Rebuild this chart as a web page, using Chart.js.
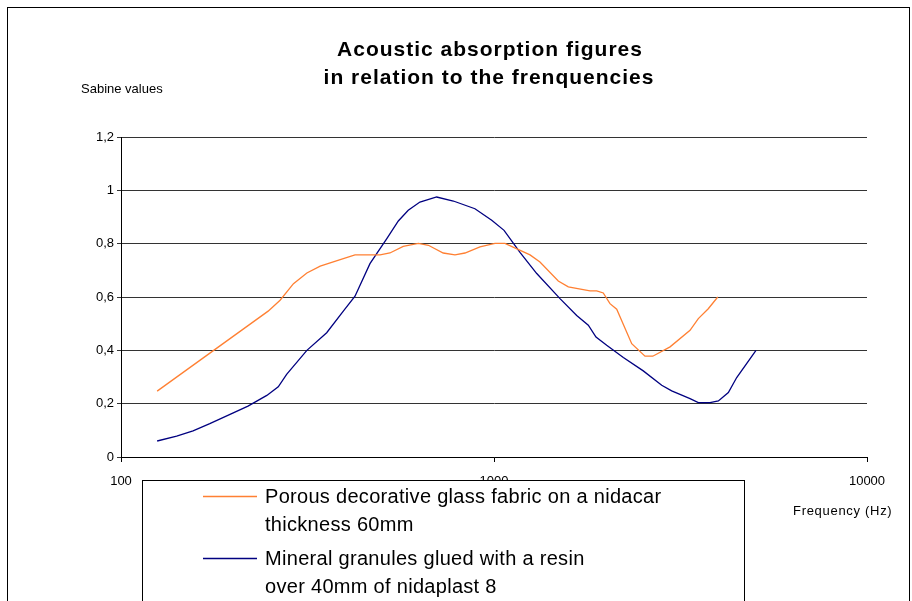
<!DOCTYPE html>
<html>
<head>
<meta charset="utf-8">
<title>Acoustic absorption figures</title>
<script src="https://cdn.jsdelivr.net/npm/chart.js@4"></script>
<style>
	body { margin: 0; background: #fff; }
	#chart-holder { width: 912px; height: 601px; }
</style>
</head>
<body>
<div id="chart-holder"><canvas id="myChart" width="912" height="601"></canvas></div>
<script>
const titleLines = ['Acoustic absorption figures', 'in relation to the frenquencies'];
const yAxisTitle = 'Sabine values';
const xAxisTitle = 'Frequency (Hz)';
const xTickValues = [100, 1000, 10000];

const glassLabel = ['Porous decorative glass fabric on a nidacar', 'thickness 60mm'];
const glassFreq = [125, 248, 267, 290, 315, 342, 387, 424, 495, 526, 571, 627, 667, 731, 786, 836, 917, 1006, 1070,
	1249, 1328, 1487, 1582, 1809, 1885, 1963, 2046, 2133, 2340, 2540, 2665, 2965, 3354, 3530, 3754, 3980];
const glassValues = [0.247, 0.547, 0.588, 0.650, 0.690, 0.716, 0.740, 0.758, 0.758, 0.765, 0.790, 0.801, 0.794, 0.765, 0.758, 0.765, 0.788, 0.801, 0.801,
	0.758, 0.731, 0.660, 0.638, 0.623, 0.623, 0.615, 0.575, 0.554, 0.425, 0.378, 0.378, 0.413, 0.475, 0.519, 0.556, 0.600];

const mineralLabel = ['Mineral granules glued with a resin', 'over 40mm of nidaplast 8'];
const mineralFreq = [125, 141, 156, 173, 196, 219, 246, 264, 278, 315, 356, 394, 424, 465, 516, 554, 589, 633, 702, 778, 889, 986, 1064,
	1174, 1302, 1503, 1666, 1790, 1877, 2005, 2222, 2513, 2816, 2995, 3354, 3530, 3794, 3995, 4249, 4474, 5040];
const mineralValues = [0.060, 0.078, 0.098, 0.125, 0.160, 0.191, 0.231, 0.263, 0.310, 0.400, 0.466, 0.546, 0.603, 0.725, 0.819, 0.885, 0.925, 0.956, 0.975, 0.960, 0.931, 0.888, 0.850,
	0.767, 0.688, 0.594, 0.531, 0.494, 0.450, 0.419, 0.373, 0.323, 0.269, 0.248, 0.219, 0.204, 0.204, 0.210, 0.242, 0.298, 0.400];

const glassColor = '#ff8033';
const mineralColor = '#000080';
const fontFamily = '"Liberation Sans", Arial, sans-serif';

function toPoints(freqs, values) {
	return freqs.map((f, i) => ({ x: f, y: values[i] }));
}

function formatComma(value) {
	return String(Number(value.toFixed(1))).replace('.', ',');
}

// frame, titles and the legend box drawn over the plot like in the original sheet
const decorations = {
	id: 'decorations',
	afterDraw(chart) {
		const ctx = chart.ctx;
		ctx.save();

		ctx.strokeStyle = '#000';
		ctx.lineWidth = 1;
		ctx.strokeRect(7.5, 7.5, 902, 700);

		ctx.fillStyle = '#000';
		ctx.textAlign = 'center';
		ctx.textBaseline = 'alphabetic';
		ctx.font = 'bold 21px ' + fontFamily;
		ctx.letterSpacing = '1px';
		ctx.fillText(titleLines[0], 490, 56);
		ctx.fillText(titleLines[1], 489, 84);

		ctx.font = '13px ' + fontFamily;
		ctx.textAlign = 'left';
		ctx.letterSpacing = '0px';
		ctx.fillText(yAxisTitle, 81, 93);
		ctx.letterSpacing = '0.7px';
		ctx.fillText(xAxisTitle, 793, 515);

		// legend
		ctx.fillStyle = '#fff';
		ctx.fillRect(142.5, 480.5, 602, 200);
		ctx.strokeStyle = '#000';
		ctx.strokeRect(142.5, 480.5, 602, 200);

		const entries = [
			{ color: glassColor, lines: glassLabel, lineY: 496.5, baseline: 503 },
			{ color: mineralColor, lines: mineralLabel, lineY: 558.5, baseline: 565 }
		];
		ctx.font = '20px ' + fontFamily;
		ctx.letterSpacing = '0.3px';
		entries.forEach(entry => {
			ctx.strokeStyle = entry.color;
			ctx.lineWidth = 1.3;
			ctx.beginPath();
			ctx.moveTo(203, entry.lineY);
			ctx.lineTo(257, entry.lineY);
			ctx.stroke();
			ctx.fillStyle = '#000';
			entry.lines.forEach((text, i) => {
				ctx.fillText(text, 265, entry.baseline + i * 28);
			});
		});

		ctx.restore();
	}
};

const canvas = document.getElementById('myChart');

const chart = new Chart(canvas, {
	type: 'line',
	data: {
		datasets: [{
			label: glassLabel.join(' '),
			data: toPoints(glassFreq, glassValues),
			borderColor: glassColor,
			borderWidth: 1.3,
			pointRadius: 0,
			tension: 0,
			fill: false
		}, {
			label: mineralLabel.join(' '),
			data: toPoints(mineralFreq, mineralValues),
			borderColor: mineralColor,
			borderWidth: 1.3,
			pointRadius: 0,
			tension: 0,
			fill: false
		}]
	},
	options: {
		responsive: false,
		animation: false,
		devicePixelRatio: 1,
		layout: {
			padding: { left: 0, right: 45, top: 137, bottom: 114 }
		},
		plugins: {
			legend: { display: false },
			title: { display: false },
			tooltip: { enabled: false }
		},
		scales: {
			x: {
				type: 'logarithmic',
				min: 100,
				max: 10000,
				afterBuildTicks: (scale) => {
					scale.ticks = xTickValues.map(v => ({ value: v, major: true }));
				},
				afterFit: (scale) => { scale.height = 30; },
				grid: {
					drawOnChartArea: false,
					drawTicks: true,
					tickLength: 5,
					color: '#000'
				},
				border: { display: true, color: '#000', width: 1 },
				ticks: {
					autoSkip: false,
					maxRotation: 0,
					padding: 12,
					color: '#000',
					font: { family: fontFamily, size: 13 },
					callback: (value) => String(value)
				}
			},
			y: {
				min: 0,
				max: 1.2,
				afterFit: (scale) => { scale.width = 121; },
				ticks: {
					stepSize: 0.2,
					padding: 3,
					color: '#000',
					font: { family: fontFamily, size: 13 },
					callback: (value) => formatComma(value)
				},
				grid: {
					color: '#333',
					lineWidth: 1,
					tickLength: 4
				},
				border: { display: true, color: '#000', width: 1 }
			}
		}
	},
	plugins: [decorations]
});
</script>
</body>
</html>
